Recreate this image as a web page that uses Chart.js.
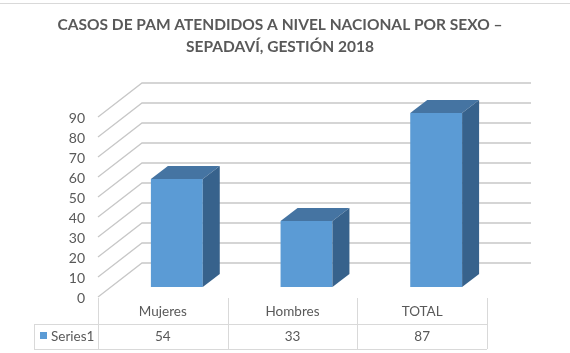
<!DOCTYPE html>
<html>
<head>
<meta charset="utf-8">
<script src="https://cdn.jsdelivr.net/npm/chart.js@4"></script>
<style>
  body { margin: 0; background: #ffffff; }
  #wrap { width: 570px; height: 353px; }
</style>
</head>
<body>
<div id="wrap"><canvas id="myChart" width="570" height="353"></canvas></div>
<script>
// chart data
const titleLines = ['CASOS DE PAM ATENDIDOS A NIVEL NACIONAL POR SEXO \u2013', 'SEPADAV\u00cd, GESTI\u00d3N 2018'];
const categories = ['Mujeres', 'Hombres', 'TOTAL'];
const seriesName = 'Series1';
const values = [54, 33, 87];
const yTicks = [0, 10, 20, 30, 40, 50, 60, 70, 80, 90];

// 3d look: offsets from the bar front plane
const FRONT_DX = -14, FRONT_DY = 10;
const BACK_DX = 30, BACK_DY = -24;
const DEPTH_DX = 17, DEPTH_DY = -13;

const textColor = '#595959';
const gridColor = '#C8C8C8';
const tableColor = '#D9D9D9';
const fontFam = 'Lato, "Open Sans", sans-serif';

const fake3d = {
  id: 'fake3d',
  beforeDatasetsDraw(chart) {
    const ctx = chart.ctx;
    const x = chart.scales.x, y = chart.scales.y;
    ctx.save();
    ctx.strokeStyle = gridColor;
    ctx.lineWidth = 1.3;
    yTicks.forEach(function (v) {
      const py = y.getPixelForValue(v);
      ctx.beginPath();
      ctx.moveTo(x.left + FRONT_DX, py + FRONT_DY);
      ctx.lineTo(x.left + BACK_DX, py + BACK_DY);
      ctx.lineTo(x.right + BACK_DX, py + BACK_DY);
      ctx.stroke();
    });
    ctx.restore();
  },
  afterDatasetsDraw(chart) {
    const ctx = chart.ctx;
    const x = chart.scales.x, y = chart.scales.y;
    const meta = chart.getDatasetMeta(0);
    ctx.save();
    meta.data.forEach(function (bar) {
      const l = bar.x - bar.width / 2, r = bar.x + bar.width / 2;
      const t = bar.y, b = bar.base;
      // top
      ctx.fillStyle = '#4574A2';
      ctx.beginPath();
      ctx.moveTo(l, t);
      ctx.lineTo(l + DEPTH_DX, t + DEPTH_DY);
      ctx.lineTo(r + DEPTH_DX, t + DEPTH_DY);
      ctx.lineTo(r, t);
      ctx.closePath();
      ctx.fill();
      // side
      ctx.fillStyle = '#37628C';
      ctx.beginPath();
      ctx.moveTo(r, t);
      ctx.lineTo(r + DEPTH_DX, t + DEPTH_DY);
      ctx.lineTo(r + DEPTH_DX, b + DEPTH_DY);
      ctx.lineTo(r, b);
      ctx.closePath();
      ctx.fill();
    });

    // y tick labels on the front plane
    ctx.fillStyle = textColor;
    ctx.font = '14px ' + fontFam;
    ctx.textAlign = 'right';
    ctx.textBaseline = 'middle';
    yTicks.forEach(function (v) {
      ctx.fillText(String(v), x.left + FRONT_DX - 13, y.getPixelForValue(v) + FRONT_DY + 1);
    });

    // data table
    const tLeft = x.left + FRONT_DX;
    const tRight = x.right + FRONT_DX;
    const rowTop = y.getPixelForValue(0) + FRONT_DY + 1;
    const rowMid = rowTop + 26;
    const rowBot = rowMid + 25;
    const legLeft = 34;
    ctx.strokeStyle = tableColor;
    ctx.lineWidth = 1;
    ctx.beginPath();
    ctx.moveTo(legLeft, rowMid + 0.5); ctx.lineTo(tRight, rowMid + 0.5);
    ctx.moveTo(legLeft, rowBot + 0.5); ctx.lineTo(tRight, rowBot + 0.5);
    ctx.moveTo(legLeft + 0.5, rowMid); ctx.lineTo(legLeft + 0.5, rowBot);
    ctx.moveTo(Math.round(tLeft) + 0.5, rowTop); ctx.lineTo(Math.round(tLeft) + 0.5, rowBot);
    for (let i = 0; i < categories.length; i++) {
      const edge = Math.round(x.getPixelForValue(i) + FRONT_DX + (x.getPixelForValue(1) - x.getPixelForValue(0)) / 2) + 0.5;
      ctx.moveTo(edge, rowTop); ctx.lineTo(edge, rowBot);
    }
    ctx.stroke();

    ctx.font = '13.5px ' + fontFam;
    ctx.textAlign = 'center';
    categories.forEach(function (c, i) {
      const cx = x.getPixelForValue(i) + FRONT_DX;
      ctx.fillText(c, cx, rowTop + 14);
      ctx.fillText(String(values[i]), cx, rowMid + 13);
    });
    ctx.fillStyle = '#5B9BD5';
    ctx.fillRect(legLeft + 6, rowMid + 8, 7, 7);
    ctx.fillStyle = textColor;
    ctx.textAlign = 'left';
    ctx.fillText(seriesName, legLeft + 17, rowMid + 13);

    // title
    ctx.font = 'bold 15.5px ' + fontFam;
    ctx.textAlign = 'center';
    ctx.fillText(titleLines[0], 280, 25);
    ctx.fillText(titleLines[1], 280, 47);

    // outer border line at the top
    ctx.strokeStyle = '#D9D9D9';
    ctx.beginPath();
    ctx.moveTo(0, 3.5); ctx.lineTo(570, 3.5);
    ctx.stroke();
    ctx.restore();
  }
};

const data = {
  labels: categories,
  datasets: [{
    label: seriesName,
    data: values,
    backgroundColor: '#5B9BD5',
    borderWidth: 0,
    barPercentage: 0.4,
    categoryPercentage: 1.0
  }]
};

const config = {
  type: 'bar',
  data: data,
  options: {
    responsive: false,
    animation: false,
    devicePixelRatio: 1,
    layout: { padding: { left: 112, right: 69, top: 107, bottom: 66 } },
    scales: {
      x: { display: false, offset: true },
      y: { display: false, min: 0, max: 90 }
    },
    plugins: {
      legend: { display: false },
      title: { display: false },
      tooltip: { enabled: false }
    }
  },
  plugins: [fake3d]
};

const myChart = new Chart(document.getElementById('myChart'), config);
</script>
</body>
</html>
